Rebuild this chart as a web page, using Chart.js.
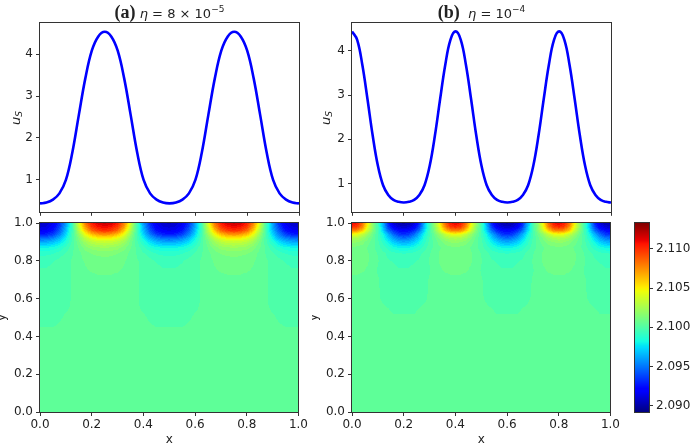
<!DOCTYPE html>
<html>
<head>
<meta charset="utf-8">
<script src="https://cdn.jsdelivr.net/npm/chart.js@4.4.0/dist/chart.umd.min.js"></script>
<style>
html, body { margin: 0; padding: 0; background: #fff; overflow: hidden; }
#fig { position: relative; width: 690px; height: 445px; font-family: "DejaVu Sans", sans-serif; color: #222; }
.box { position: absolute; }
.box canvas { display: block; }
.ttl { position: absolute; top: 3px; white-space: nowrap; text-align: center; font-size: 13px; line-height: 18px; }
.ttl b { font-family: "Liberation Serif", serif; font-size: 18px; }
.ttl sup { font-size: 9px; line-height: 0; vertical-align: 6px; }
.ylab { position: absolute; white-space: nowrap; font-size: 13px; line-height: 14px; transform: translate(-50%, -50%) rotate(-90deg); }
.ylab sub { font-size: 9px; line-height: 0; vertical-align: -2px; font-style: italic; }
</style>
</head>
<body>
<div id="fig">
  <div class="box" style="left:0;top:0"><canvas id="usA" width="310" height="222"></canvas></div>
  <div class="box" style="left:312px;top:0"><canvas id="usB" width="310" height="222"></canvas></div>
  <div class="box" style="left:0;top:205px"><canvas id="mapA" width="310" height="240"></canvas></div>
  <div class="box" style="left:312px;top:205px"><canvas id="mapB" width="310" height="240"></canvas></div>
  <div class="box" style="left:622px;top:205px"><canvas id="cbar" width="68" height="240"></canvas></div>
  <div class="ttl" style="left:40px;width:259px"><b>(a)</b> <i>η</i> = 8 × 10<sup>−5</sup></div>
  <div class="ttl" style="left:352px;width:259px"><b>(b)</b>&nbsp; <i>η</i> = 10<sup>−4</sup></div>
  <div class="ylab" style="left:16px;top:118px"><i>u</i><sub>S</sub></div>
  <div class="ylab" style="left:326px;top:118px"><i>u</i><sub>S</sub></div>
</div>
<script>
// --- data ---
const xA = [0, 0.025, 0.05, 0.075, 0.1, 0.125, 0.15, 0.175, 0.2, 0.225, 0.25, 0.275, 0.3, 0.325, 0.35, 0.375, 0.4, 0.425, 0.45, 0.475,
  0.5, 0.525, 0.55, 0.575, 0.6, 0.625, 0.65, 0.675, 0.7, 0.725, 0.75, 0.775, 0.8, 0.825, 0.85, 0.875, 0.9, 0.925, 0.95, 0.975, 1.0];
const usA = [0.44, 0.46, 0.53, 0.68, 1.00, 1.66, 2.55, 3.42, 4.08, 4.42, 4.53, 4.42, 4.08, 3.42, 2.55, 1.66, 1.00, 0.68, 0.53, 0.46,
  0.44, 0.46, 0.53, 0.68, 1.00, 1.66, 2.55, 3.42, 4.08, 4.42, 4.53, 4.42, 4.08, 3.42, 2.55, 1.66, 1.00, 0.68, 0.53, 0.46, 0.44];

const xB = [0, 0.02, 0.04, 0.06, 0.08, 0.1, 0.12, 0.14, 0.16, 0.18, 0.2, 0.22, 0.24, 0.26, 0.28, 0.3, 0.32, 0.34, 0.36, 0.38,
  0.4, 0.42, 0.44, 0.46, 0.48, 0.5, 0.52, 0.54, 0.56, 0.58, 0.6, 0.62, 0.64, 0.66, 0.68, 0.7, 0.72, 0.74, 0.76, 0.78,
  0.8, 0.82, 0.84, 0.86, 0.88, 0.9, 0.92, 0.94, 0.96, 0.98, 1.0];
const usB = [4.44, 4.25, 3.68, 2.90, 2.08, 1.40, 0.96, 0.74, 0.63, 0.585, 0.57, 0.585, 0.63, 0.74, 0.96, 1.40, 2.08, 2.90, 3.68, 4.25,
  4.44, 4.25, 3.68, 2.90, 2.08, 1.40, 0.96, 0.74, 0.63, 0.585, 0.57, 0.585, 0.63, 0.74, 0.96, 1.40, 2.08, 2.90, 3.68, 4.25,
  4.44, 4.25, 3.68, 2.90, 2.08, 1.40, 0.96, 0.74, 0.63, 0.585, 0.57];

const usTicks = [1, 2, 3, 4];
const xTicks = [0, 0.2, 0.4, 0.6, 0.8, 1.0];
const yTicks = [0, 0.2, 0.4, 0.6, 0.8, 1.0];
const cbTicks = [2.090, 2.095, 2.100, 2.105, 2.110];

// field rows (y from top), values are (phi - 2.1) in units of 1e-4; columns on xA / xB
const fieldY = [1.0, 0.98, 0.96, 0.94, 0.92, 0.90, 0.87, 0.84, 0.80, 0.75, 0.70, 0.60, 0.50, 0.40];
const fieldBase = 2.1, fieldUnit = 1e-4;
const dPhiA = [
  [-95,-92,-85,-68,-40,-5,40,80,105,116,118,116,105,80,40,-5,-40,-68,-85,-92,-95,-92,-85,-68,-40,-5,40,80,105,116,118,116,105,80,40,-5,-40,-68,-85,-92,-95],
  [-90,-88,-80,-63,-37,-5,35,72,97,107,110,107,97,72,35,-5,-37,-63,-80,-88,-90,-88,-80,-63,-37,-5,35,72,97,107,110,107,97,72,35,-5,-37,-63,-80,-88,-90],
  [-84,-82,-74,-57,-33,-5,28,60,85,96,100,96,85,60,28,-5,-33,-57,-74,-82,-84,-82,-74,-57,-33,-5,28,60,85,96,100,96,85,60,28,-5,-33,-57,-74,-82,-84],
  [-73,-70,-63,-48,-27,-4,20,45,62,72,75,72,62,45,20,-4,-27,-48,-63,-70,-73,-70,-63,-48,-27,-4,20,45,62,72,75,72,62,45,20,-4,-27,-48,-63,-70,-73],
  [-55,-53,-47,-36,-20,-3,14,32,43,49,50,49,43,32,14,-3,-20,-36,-47,-53,-55,-53,-47,-36,-20,-3,14,32,43,49,50,49,43,32,14,-3,-20,-36,-47,-53,-55],
  [-38,-37,-33,-25,-14,-2,10,22,30,34,35,34,30,22,10,-2,-14,-25,-33,-37,-38,-37,-33,-25,-14,-2,10,22,30,34,35,34,30,22,10,-2,-14,-25,-33,-37,-38],
  [-20,-19,-17,-13,-7,0,7,14,19,21,22,21,19,14,7,0,-7,-13,-17,-19,-20,-19,-17,-13,-7,0,7,14,19,21,22,21,19,14,7,0,-7,-13,-17,-19,-20],
  [-10,-10,-9,-6,-3,1,5,9,12,13,14,13,12,9,5,1,-3,-6,-9,-10,-10,-10,-9,-6,-3,1,5,9,12,13,14,13,12,9,5,1,-3,-6,-9,-10,-10],
  [-5,-5,-4,-2,0,2,5,7,8,9,9,9,8,7,5,2,0,-2,-4,-5,-5,-5,-4,-2,0,2,5,7,8,9,9,9,8,7,5,2,0,-2,-4,-5,-5],
  [-3,-3,-2,-1,0,2,4,6,7,7,7,7,7,6,4,2,0,-1,-2,-3,-3,-3,-2,-1,0,2,4,6,7,7,7,7,7,6,4,2,0,-1,-2,-3,-3],
  [-2,-2,-2,-1,0,2,3,4,5,6,6,6,5,4,3,2,0,-1,-2,-2,-2,-2,-2,-1,0,2,3,4,5,6,6,6,5,4,3,2,0,-1,-2,-2,-2],
  [-1,-1,-1,0,0,2,3,3,4,4,4,4,4,3,3,2,0,0,-1,-1,-1,-1,-1,0,0,2,3,3,4,4,4,4,4,3,3,2,0,0,-1,-1,-1],
  [0,0,0,1,2,2,3,3,3,3,3,3,3,3,3,2,2,1,0,0,0,0,0,1,2,2,3,3,3,3,3,3,3,3,3,2,2,1,0,0,0],
  [3,3,3,3,3,3,3,3,3,3,3,3,3,3,3,3,3,3,3,3,3,3,3,3,3,3,3,3,3,3,3,3,3,3,3,3,3,3,3,3,3]
];
const dPhiB = [
  [112,106,85,50,20,-5,-35,-70,-90,-98,-100,-98,-90,-70,-35,-5,20,50,85,106,112,106,85,50,20,-5,-35,-70,-90,-98,-100,-98,-90,-70,-35,-5,20,50,85,106,112,106,85,50,20,-5,-35,-70,-90,-98,-100],
  [102,96,77,45,18,-5,-32,-63,-82,-90,-93,-90,-82,-63,-32,-5,18,45,77,96,102,96,77,45,18,-5,-32,-63,-82,-90,-93,-90,-82,-63,-32,-5,18,45,77,96,102,96,77,45,18,-5,-32,-63,-82,-90,-93],
  [80,75,60,36,14,-4,-27,-52,-68,-76,-79,-76,-68,-52,-27,-4,14,36,60,75,80,75,60,36,14,-4,-27,-52,-68,-76,-79,-76,-68,-52,-27,-4,14,36,60,75,80,75,60,36,14,-4,-27,-52,-68,-76,-79],
  [45,42,33,20,8,-4,-18,-36,-53,-64,-68,-64,-53,-36,-18,-4,8,20,33,42,45,42,33,20,8,-4,-18,-36,-53,-64,-68,-64,-53,-36,-18,-4,8,20,33,42,45,42,33,20,8,-4,-18,-36,-53,-64,-68],
  [28,26,21,13,5,-3,-14,-28,-40,-49,-52,-49,-40,-28,-14,-3,5,13,21,26,28,26,21,13,5,-3,-14,-28,-40,-49,-52,-49,-40,-28,-14,-3,5,13,21,26,28,26,21,13,5,-3,-14,-28,-40,-49,-52],
  [18,17,14,9,4,-2,-10,-20,-29,-35,-38,-35,-29,-20,-10,-2,4,9,14,17,18,17,14,9,4,-2,-10,-20,-29,-35,-38,-35,-29,-20,-10,-2,4,9,14,17,18,17,14,9,4,-2,-10,-20,-29,-35,-38],
  [11,10,9,6,3,-1,-6,-11,-16,-19,-20,-19,-16,-11,-6,-1,3,6,9,10,11,10,9,6,3,-1,-6,-11,-16,-19,-20,-19,-16,-11,-6,-1,3,6,9,10,11,10,9,6,3,-1,-6,-11,-16,-19,-20],
  [9,9,8,7,5,1,-2,-5,-7,-8,-9,-8,-7,-5,-2,1,5,7,8,9,9,9,8,7,5,1,-2,-5,-7,-8,-9,-8,-7,-5,-2,1,5,7,8,9,9,9,8,7,5,1,-2,-5,-7,-8,-9],
  [8,8,7,7,5,2,-1,-3,-4,-5,-5,-5,-4,-3,-1,2,5,7,7,8,8,8,7,7,5,2,-1,-3,-4,-5,-5,-5,-4,-3,-1,2,5,7,7,8,8,8,7,7,5,2,-1,-3,-4,-5,-5],
  [7,7,7,6,4,1,0,-1,-2,-3,-3,-3,-2,-1,0,1,4,6,7,7,7,7,7,6,4,1,0,-1,-2,-3,-3,-3,-2,-1,0,1,4,6,7,7,7,7,7,6,4,1,0,-1,-2,-3,-3],
  [6,6,5,4,3,2,0,-1,-1,-2,-2,-2,-1,-1,0,2,3,4,5,6,6,6,5,4,3,2,0,-1,-1,-2,-2,-2,-1,-1,0,2,3,4,5,6,6,6,5,4,3,2,0,-1,-1,-2,-2],
  [3,3,3,3,3,2,1,0,-1,-1,-1,-1,-1,0,1,2,3,3,3,3,3,3,3,3,3,2,1,0,-1,-1,-1,-1,-1,0,1,2,3,3,3,3,3,3,3,3,3,2,1,0,-1,-1,-1],
  [3,3,3,3,3,3,3,3,2,2,2,2,2,3,3,3,3,3,3,3,3,3,3,3,3,3,3,3,2,2,2,2,2,3,3,3,3,3,3,3,3,3,3,3,3,3,3,3,2,2,2],
  [3,3,3,3,3,3,3,3,3,3,3,3,3,3,3,3,3,3,3,3,3,3,3,3,3,3,3,3,3,3,3,3,3,3,3,3,3,3,3,3,3,3,3,3,3,3,3,3,3,3,3]
];
const vMin = 2.0892, vMax = 2.1133;

// --- styling ---
const ink = '#222';
const spine = '#333';
const tickFont = { family: 'DejaVu Sans', size: 12 };
Chart.defaults.font.family = 'DejaVu Sans';

// matplotlib "jet"
const jetR = [[0, 0], [0.35, 0], [0.66, 1], [0.89, 1], [1, 0.5]];
const jetG = [[0, 0], [0.125, 0], [0.375, 1], [0.64, 1], [0.91, 0], [1, 0]];
const jetB = [[0, 0.5], [0.11, 1], [0.34, 1], [0.65, 0], [1, 0]];
function segment(stops, t) {
  for (let i = 0; i < stops.length - 1; i++) {
    const [t0, v0] = stops[i], [t1, v1] = stops[i + 1];
    if (t <= t1) return v0 + (v1 - v0) * (t - t0) / (t1 - t0);
  }
  return stops[stops.length - 1][1];
}
function jet(v) {
  const t = Math.min(1, Math.max(0, (v - vMin) / (vMax - vMin)));
  return [segment(jetR, t), segment(jetG, t), segment(jetB, t)].map(c => Math.round(c * 255));
}
// filled-contour look: snap to levels
const levelStep = 0.0005, levelEdge = 2.10015;
function toLevel(v) {
  return levelEdge + (Math.floor((v - levelEdge) / levelStep) + 0.5) * levelStep;
}

function locate(nodes, v) {
  const n = nodes.length;
  for (let i = 0; i < n - 1; i++) {
    const a = nodes[i], b = nodes[i + 1];
    if ((v - a) * (v - b) <= 0) return [i, (v - a) / (b - a)];
  }
  return Math.abs(v - nodes[0]) < Math.abs(v - nodes[n - 1]) ? [0, 0] : [n - 2, 1];
}

function heatmap(xs, field) {
  return {
    id: 'heatmap',
    beforeDatasetsDraw(chart) {
      const { ctx, chartArea: area, scales } = chart;
      const left = Math.round(area.left), top = Math.round(area.top);
      const w = Math.round(area.right) - left, h = Math.round(area.bottom) - top;
      const img = ctx.createImageData(w, h);
      for (let j = 0; j < h; j++) {
        const [r, fy] = locate(fieldY, scales.y.getValueForPixel(top + j + 0.5));
        for (let i = 0; i < w; i++) {
          const [c, fx] = locate(xs, scales.x.getValueForPixel(left + i + 0.5));
          const up = field[r][c] * (1 - fx) + field[r][c + 1] * fx;
          const dn = field[r + 1][c] * (1 - fx) + field[r + 1][c + 1] * fx;
          const v = fieldBase + (up * (1 - fy) + dn * fy) * fieldUnit;
          const rgb = jet(toLevel(v));
          const k = (j * w + i) * 4;
          img.data[k] = rgb[0]; img.data[k + 1] = rgb[1]; img.data[k + 2] = rgb[2]; img.data[k + 3] = 255;
        }
      }
      ctx.putImageData(img, left, top);
    }
  };
}

const colorbar = {
  id: 'colorbar',
  beforeDatasetsDraw(chart) {
    const { ctx, chartArea: area, scales } = chart;
    const left = Math.round(area.left), w = Math.round(area.right) - left;
    for (let py = Math.round(area.top); py < Math.round(area.bottom); py++) {
      const rgb = jet(scales.y.getValueForPixel(py + 0.5));
      ctx.fillStyle = `rgb(${rgb[0]},${rgb[1]},${rgb[2]})`;
      ctx.fillRect(left, py, w, 1);
    }
  }
};

const frame = {
  id: 'frame',
  afterDraw(chart) {
    const { ctx, chartArea: a } = chart;
    const l = Math.round(a.left), t = Math.round(a.top), r = Math.round(a.right), b = Math.round(a.bottom);
    ctx.save();
    ctx.strokeStyle = spine;
    ctx.lineWidth = 1;
    ctx.strokeRect(l - 0.5, t - 0.5, r - l + 1, b - t + 1);
    ctx.restore();
  }
};

const tickGrid = { display: true, drawOnChartArea: false, drawTicks: true, tickLength: 4, color: spine, lineWidth: 1 };
const fixTicks = list => scale => { scale.ticks = list.map(v => ({ value: v })); };

function usChart(id, xs, ys, yMin, yMax) {
  return new Chart(document.getElementById(id), {
    type: 'line',
    data: {
      datasets: [{
        data: xs.map((x, i) => ({ x: x, y: ys[i] })),
        borderColor: '#0000ff',
        borderWidth: 2.6,
        pointRadius: 0,
        tension: 0.4,
        fill: false
      }]
    },
    options: {
      responsive: false,
      animation: false,
      devicePixelRatio: 1,
      layout: { padding: { left: 0, top: 23, right: 11, bottom: 4 } },
      plugins: { legend: { display: false }, tooltip: { enabled: false } },
      scales: {
        x: {
          type: 'linear', min: 0, max: 1,
          afterBuildTicks: fixTicks(xTicks),
          ticks: { display: false },
          grid: tickGrid,
          border: { display: false },
          afterFit: s => { s.height = 6; }
        },
        y: {
          type: 'linear', min: yMin, max: yMax,
          afterBuildTicks: fixTicks(usTicks),
          ticks: { font: tickFont, color: ink, padding: 3 },
          grid: tickGrid,
          border: { display: false },
          afterFit: s => { s.width = 40; }
        }
      }
    },
    plugins: [frame]
  });
}

function mapChart(id, xs, field) {
  return new Chart(document.getElementById(id), {
    type: 'scatter',
    data: { datasets: [] },
    options: {
      responsive: false,
      animation: false,
      devicePixelRatio: 1,
      layout: { padding: { left: 0, top: 18, right: 11, bottom: 0 } },
      plugins: { legend: { display: false }, tooltip: { enabled: false } },
      scales: {
        x: {
          type: 'linear', min: 0, max: 1,
          afterBuildTicks: fixTicks(xTicks),
          ticks: { font: tickFont, color: ink, padding: 2, maxRotation: 0, callback: v => v.toFixed(1) },
          grid: tickGrid,
          border: { display: false },
          title: { display: true, text: 'x', color: ink, font: { family: 'DejaVu Sans', size: 12 }, padding: { top: 0, bottom: -2 } },
          afterFit: s => { s.height = 33; }
        },
        y: {
          type: 'linear', min: 0, max: 1,
          afterBuildTicks: fixTicks(yTicks),
          ticks: { font: tickFont, color: ink, padding: 3, callback: v => v.toFixed(1) },
          grid: tickGrid,
          border: { display: false },
          title: { display: true, text: 'y', color: ink, font: { family: 'DejaVu Sans', size: 12 }, padding: { top: -5, bottom: 0 } },
          afterFit: s => { s.width = 40; }
        }
      }
    },
    plugins: [heatmap(xs, field), frame]
  });
}

usChart('usA', xA, usA, 0.24, 4.74);
usChart('usB', xB, usB, 0.36, 4.63);
mapChart('mapA', xA, dPhiA);
mapChart('mapB', xB, dPhiB);

new Chart(document.getElementById('cbar'), {
  type: 'scatter',
  data: { datasets: [] },
  options: {
    responsive: false,
    animation: false,
    devicePixelRatio: 1,
    layout: { padding: { left: 13, top: 18, right: 0, bottom: 33 } },
    plugins: { legend: { display: false }, tooltip: { enabled: false } },
    scales: {
      x: { type: 'linear', display: false, min: 0, max: 1 },
      y: {
        type: 'linear', position: 'right', min: vMin, max: vMax,
        afterBuildTicks: fixTicks(cbTicks),
        ticks: { font: tickFont, color: ink, padding: 3, callback: v => v.toFixed(3) },
        grid: tickGrid,
        border: { display: false },
        afterFit: s => { s.width = 41; }
      }
    }
  },
  plugins: [colorbar, frame]
});
</script>
</body>
</html>
